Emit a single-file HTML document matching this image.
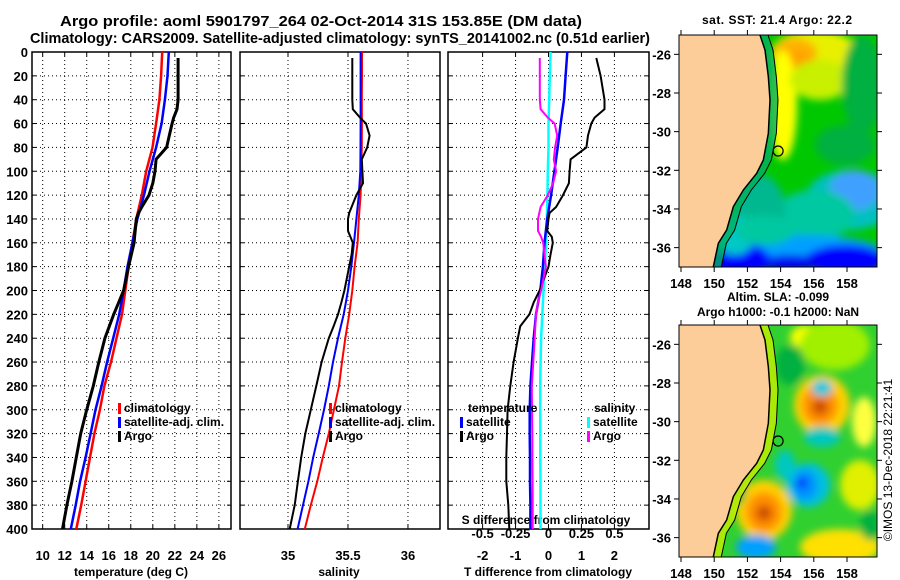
<!DOCTYPE html>
<html><head><meta charset="utf-8"><style>
body{margin:0;background:#fff;}
svg{display:block;font-family:"Liberation Sans",sans-serif;font-weight:bold;}
</style></head><body>
<svg id="fig" width="900" height="580" viewBox="0 0 900 580">
<defs>
<filter id="bl" x="-20%" y="-20%" width="140%" height="140%"><feGaussianBlur stdDeviation="4"/></filter>
<clipPath id="c1"><rect x="679" y="35" width="198" height="232"/></clipPath>
<clipPath id="c2"><rect x="679" y="325" width="198" height="232"/></clipPath>
</defs>
<text x="60" y="26" font-size="15" textLength="522" lengthAdjust="spacingAndGlyphs">Argo profile: aoml 5901797_264 02-Oct-2014 31S 153.85E (DM data)</text>
<text x="30" y="43" font-size="15" textLength="620" lengthAdjust="spacingAndGlyphs">Climatology: CARS2009. Satellite-adjusted climatology: synTS_20141002.nc (0.51d earlier)</text>
<g id="charts"></g>
<g id="maps"></g>
</svg>
<script>
// ---------- data ----------
const depths = [0,20,40,60,80,100,120,140,160,180,200,220,240,260,280,300,320,340,360,380,400];
const tempClim = [20.85,20.75,20.6,20.3,19.97,19.4,19.0,18.5,18.15,17.8,17.5,17.2,16.7,16.2,15.6,15.2,14.7,14.3,13.9,13.5,13.05];
const tempSat = [21.45,21.33,21.1,20.8,20.3,19.7,19.2,18.6,18.15,17.7,17.35,16.95,16.4,15.85,15.35,14.8,14.35,13.9,13.4,13.0,12.55];
const argoDepths = [5,20,40,48,55,60,70,80,90,100,110,120,130,135,140,150,155,160,170,180,200,210,220,230,240,260,280,300,320,340,360,380,400];
const tempArgo = [22.3,22.3,22.3,22.2,21.9,21.75,21.5,21.25,20.3,20.2,20.0,19.65,19.0,18.7,18.5,18.4,18.35,18.3,18.05,17.8,17.35,16.9,16.45,16.05,15.65,15.1,14.6,14.0,13.45,13.05,12.65,12.2,11.8];
const salClim = [35.617,35.617,35.615,35.616,35.615,35.61,35.605,35.59,35.58,35.555,35.536,35.51,35.478,35.45,35.425,35.383,35.34,35.29,35.244,35.19,35.14];
const salSat = [35.605,35.605,35.605,35.605,35.604,35.603,35.59,35.57,35.55,35.528,35.5,35.464,35.417,35.375,35.34,35.3,35.256,35.21,35.17,35.125,35.08];
const salArgo = [35.536,35.536,35.536,35.54,35.6,35.65,35.68,35.66,35.615,35.62,35.625,35.57,35.53,35.51,35.5,35.5,35.52,35.54,35.53,35.51,35.47,35.445,35.417,35.38,35.34,35.28,35.236,35.19,35.144,35.11,35.083,35.056,35.014];
const tDiffSat = [0.57,0.52,0.47,0.37,0.28,0.18,0.08,-0.04,-0.12,-0.17,-0.25,-0.38,-0.45,-0.5,-0.55,-0.57,-0.57,-0.56,-0.56,-0.55,-0.55];
const tDiffArgo = [1.45,1.58,1.7,1.7,1.4,1.3,1.2,1.15,0.67,0.64,0.62,0.44,0.23,0.03,0.0,-0.04,0.1,0.13,0.06,0.0,-0.27,-0.45,-0.58,-0.86,-0.93,-1.06,-1.16,-1.24,-1.26,-1.28,-1.28,-1.22,-1.19];
const sDiffSat = [0.015,0.01,0.005,0.0,0.0,-0.005,-0.008,-0.012,-0.018,-0.028,-0.038,-0.047,-0.056,-0.06,-0.063,-0.063,-0.062,-0.062,-0.061,-0.061,-0.061];
const sDiffArgo = [-0.066,-0.066,-0.066,-0.06,-0.005,0.046,0.066,0.05,0.04,0.058,0.035,-0.005,-0.06,-0.07,-0.08,-0.08,-0.056,-0.04,-0.03,-0.02,-0.056,-0.08,-0.094,-0.1,-0.105,-0.115,-0.127,-0.125,-0.123,-0.122,-0.121,-0.12,-0.12];
const depthTicks = [0,20,40,60,80,100,120,140,160,180,200,220,240,260,280,300,320,340,360,380,400];
const tempTicks = [10,12,14,16,18,20,22,24,26];
const salTicks = [35,35.5,36];
const salTickLabels = ["35","35.5","36"];
const tdTicks = [-2,-1,0,1,2];
const sdTicks = [-0.5,-0.25,0,0.25,0.5];
const sdTickLabels = ["-0.5","-0.25","0","0.25","0.5"];
const lonTicks = [148,150,152,154,156,158];
const latTicks = [-26,-28,-30,-32,-34,-36];

// ---------- helpers ----------
const NS="http://www.w3.org/2000/svg";
const G=document.getElementById('charts');
function mk(tag,attrs,parent){const e=document.createElementNS(NS,tag);for(const k in attrs)e.setAttribute(k,attrs[k]);(parent||G).appendChild(e);return e;}
const Y0=52,Y1=529;
const yS=d=>Y0+(d/400)*(Y1-Y0);
function lin(d0,d1,r0,r1){return v=>r0+(v-d0)/(d1-d0)*(r1-r0);}
const panels=[
 {name:'temperature',x0:32,x1:231,sx:lin(9.03,27.1,32,231)},
 {name:'salinity',x0:240,x1:440,sx:lin(34.6,36.267,240,440)},
 {name:'difference',x0:448,x1:649,sx:lin(-3.05,3.05,448,649)}
];
const sdx=lin(-0.7625,0.7625,448,649);
function line(xs,ds,sx,color,w,name){
  const pts=xs.map((v,i)=>sx(v).toFixed(1)+','+yS(ds[i]).toFixed(1)).join(' ');
  const p=mk('polyline',{points:pts,fill:'none',stroke:color,'stroke-width':w});
  
  
}
function txt(x,y,s,anchor,size,name,parent,color){
  const t=mk('text',{x:x,y:y,'font-size':size||12,'text-anchor':anchor||'start',fill:color||'#000'},parent);
  t.textContent=s;
  
  
  return t;
}
panels.forEach((p,pi)=>{
  const g=mk('g',{});
  
  
  depthTicks.forEach(d=>{
    if(d>0&&d<400){const l=mk('line',{x1:p.x0,x2:p.x1,y1:yS(d),y2:yS(d),stroke:'#000','stroke-width':1,'stroke-dasharray':'1,3'},g);
      }
    mk('line',{x1:p.x0,x2:p.x0+4,y1:yS(d),y2:yS(d),stroke:'#000'},g);
    mk('line',{x1:p.x1-4,x2:p.x1,y1:yS(d),y2:yS(d),stroke:'#000'},g);
  });
  const ticks=pi===0?tempTicks:pi===1?salTicks:tdTicks;
  ticks.forEach(v=>{
    const l=mk('line',{x1:p.sx(v),x2:p.sx(v),y1:Y0,y2:Y1,stroke:'#000','stroke-width':1,'stroke-dasharray':'1,3'},g);
    
    mk('line',{x1:p.sx(v),x2:p.sx(v),y1:Y1-4,y2:Y1,stroke:'#000'},g);
    mk('line',{x1:p.sx(v),x2:p.sx(v),y1:Y0,y2:Y0+4,stroke:'#000'},g);
  });
  const fr=mk('rect',{x:p.x0,y:Y0,width:p.x1-p.x0,height:Y1-Y0,fill:'none',stroke:'#000','stroke-width':1.5},g);
  
});
depthTicks.forEach(d=>txt(28,yS(d)+5,String(d),'end',13,'y-tick-label'));
tempTicks.forEach(v=>txt(panels[0].sx(v),560,String(v),'middle',13,'temperature-tick-label'));
salTicks.forEach((v,i)=>txt(panels[1].sx(v),560,salTickLabels[i],'middle',13,'salinity-tick-label'));
tdTicks.forEach(v=>txt(panels[2].sx(v),560,String(v),'middle',13,'t-diff-tick-label'));
sdTicks.forEach((v,i)=>txt(sdx(v),538,sdTickLabels[i],'middle',13,'s-diff-tick-label'));
txt(131,576,'temperature (deg C)','middle',12,'x-axis-title-temperature');
txt(339,576,'salinity','middle',12,'x-axis-title-salinity');
txt(548,576,'T difference from climatology','middle',12,'x-axis-title-t-difference');
txt(546,524,'S difference from climatology','middle',12,'x-axis-title-s-difference');
line(tempClim,depths,panels[0].sx,'#f00',2.5,'temperature-climatology-line');
line(tempSat,depths,panels[0].sx,'#00f',2.5,'temperature-satellite-line');
line(tempArgo,argoDepths,panels[0].sx,'#000',3,'temperature-argo-line');
line(salClim,depths,panels[1].sx,'#f00',2,'salinity-climatology-line');
line(salSat,depths,panels[1].sx,'#00f',2,'salinity-satellite-line');
line(salArgo,argoDepths,panels[1].sx,'#000',2,'salinity-argo-line');
line(sDiffSat,depths,sdx,'#0ff',2.5,'s-diff-satellite-line');
line(tDiffSat,depths,panels[2].sx,'#00f',2.5,'t-diff-satellite-line');
line(tDiffArgo,argoDepths,panels[2].sx,'#000',2,'t-diff-argo-line');
line(sDiffArgo,argoDepths,sdx,'#f0f',2,'s-diff-argo-line');
function leg(x,y,color,label,name){
  const b=mk('rect',{x:x,y:y-9,width:3,height:11,fill:color});
  
  txt(x+6,y,label,'start',12,name);
}
leg(118,412,'#f00','climatology','legend-climatology');
leg(118,426,'#00f','satellite-adj. clim.','legend-satellite-adj');
leg(118,440,'#000','Argo','legend-argo');
leg(329,412,'#f00','climatology','legend-climatology-sal');
leg(329,426,'#00f','satellite-adj. clim.','legend-satellite-adj-sal');
leg(329,440,'#000','Argo','legend-argo-sal');
txt(468,412,'temperature','start',12,'legend-heading-temperature');
leg(460,426,'#00f','satellite','legend-t-satellite');
leg(460,440,'#000','Argo','legend-t-argo');
txt(594,412,'salinity','start',12,'legend-heading-salinity');
leg(587,426,'#0ff','satellite','legend-s-satellite');
leg(587,440,'#f0f','Argo','legend-s-argo');

// ---------- maps ----------
const M=document.getElementById('maps');
const lonS=lin(148,158,681,847);
const coast=[[330,105],[345,150],[355,230],[360,300],[355,400],[340,480],[320,520],[280,570],[250,620],[230,690],[205,730],[190,800]];
function drawMap(oy,clip,blobs,base,name,shelfCol){
  const g=mk('g',{'clip-path':'url(#'+clip+')'},M);
  
  
  mk('rect',{x:679,y:oy,width:198,height:232,fill:base},g);
  const bg=mk('g',{filter:'url(#bl)'},g);
  blobs.forEach(b=>mk('ellipse',{cx:b[0],cy:oy+b[1],rx:b[2],ry:b[3],fill:b[4]},bg));
  const shelf=coast.map(c=>[650+c[0]/3+8,oy-35+c[1]/3]);
  const sp=coast.map(c=>[650+c[0]/3,oy-35+c[1]/3]).concat(shelf.slice().reverse());
  mk('polygon',{points:sp.map(p=>p.join(',')).join(' '),fill:shelfCol,opacity:0.8},g);
  const pts=[[679,oy-5]].concat(coast.map(c=>[650+c[0]/3,oy-35+c[1]/3])).concat([[679,oy+240]]);
  const land=mk('polygon',{points:pts.map(p=>p.join(',')).join(' '),fill:'#fccc99'},g);
  
  mk('polyline',{points:shelf.map(p=>p.join(',')).join(' '),fill:'none',stroke:'#000','stroke-width':1},g);
  mk('polyline',{points:coast.map(c=>[650+c[0]/3,oy-35+c[1]/3].join(',')).join(' '),fill:'none',stroke:'#000','stroke-width':1.5},g);
  const ci=mk('circle',{cx:lonS(153.85),cy:oy+(31-25)*19.33,r:5,fill:'none',stroke:'#000','stroke-width':1.2},M);
  
  const fr=mk('rect',{x:679,y:oy,width:198,height:232,fill:'none',stroke:'#000','stroke-width':1},M);
  
  lonTicks.forEach(v=>{mk('line',{x1:lonS(v),x2:lonS(v),y1:oy+232,y2:oy+237,stroke:'#000'},M);mk('line',{x1:lonS(v),x2:lonS(v),y1:oy-5,y2:oy,stroke:'#000'},M);
    txt(lonS(v),oy+253,String(v),'middle',13,'longitude-tick-label',M);});
  latTicks.forEach(v=>{const y=oy+(-25-v)*19.33;mk('line',{x1:674,x2:679,y1:y,y2:y,stroke:'#000'},M);mk('line',{x1:877,x2:882,y1:y,y2:y,stroke:'#000'},M);
    txt(671,y+5,String(v),'end',13,'latitude-tick-label',M);});
}
drawMap(35,'c1',[
 [815,20,45,25,'#e8f000'],[795,18,22,15,'#ffb000'],[797,28,15,12,'#ffa000'],[783,70,14,55,'#ffff00'],[820,45,30,20,'#c8f000'],
 [862,50,20,50,'#00b040'],[845,110,30,20,'#00b040'],
 [850,165,45,30,'#00c0c0'],[855,155,25,20,'#40a0ff'],[815,180,40,25,'#00c8a0'],[760,175,25,35,'#00b890'],
 [800,215,80,15,'#00a0ff'],[845,225,40,15,'#0000ff'],[790,228,30,8,'#0000f0'],[735,225,35,18,'#0000ff'],[735,200,20,20,'#00c8c8'],[765,195,30,15,'#00c8a0']
],'#00c800','sst-map','#00b060');
drawMap(325,'c2',[
 [808,12,18,12,'#ffff00'],[845,10,18,12,'#ffff00'],[835,20,35,25,'#a0f000'],
 [822,80,28,30,'#ffd000'],[820,80,18,20,'#ff9000'],[820,82,8,8,'#d05000'],
 [764,185,28,30,'#ffd000'],[764,187,18,20,'#ff9000'],[764,188,8,8,'#d05000'],
 [822,63,10,8,'#00c8e0'],[822,112,18,10,'#00c8c0'],[785,140,10,15,'#00c8c0'],
 [808,160,22,22,'#00c0e0'],[805,160,12,15,'#0090ff'],[802,158,5,5,'#0000ff'],
 [864,97,12,25,'#ffff40'],[860,160,20,25,'#e0f000'],[840,225,30,12,'#ffb000'],[840,222,40,18,'#ffe000'],
 [756,222,20,12,'#00a0ff'],[740,100,10,80,'#00b040'],[790,40,15,20,'#00b040'],[870,200,10,15,'#00b040']
],'#30d030','sla-map','#c8f000');
txt(702,24,'sat. SST: 21.4 Argo: 22.2','start',12,'sst-map-title',M).setAttribute('textLength','150');
txt(778,301,'Altim. SLA: -0.099','middle',12,'sla-map-title-1',M);
txt(778,316,'Argo h1000: -0.1 h2000: NaN','middle',12,'sla-map-title-2',M);
const cp=txt(0,0,'©IMOS 13-Dec-2018 22:21:41','middle',12,'copyright-timestamp',M);
cp.setAttribute('font-weight','normal');
cp.setAttribute('transform','translate(892,460) rotate(-90)');
</script>
</body></html>
